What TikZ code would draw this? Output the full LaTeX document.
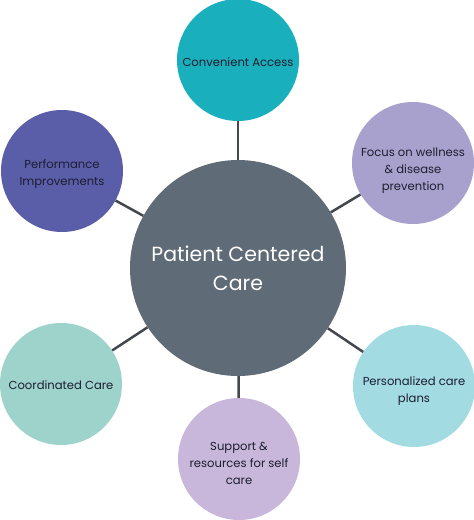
\documentclass[tikz,border=0pt]{standalone}
\usepackage{fontspec}
\setmainfont{Poppins}
\usetikzlibrary{positioning}
\definecolor{hubgray}{RGB}{95,107,118}
\definecolor{linkgray}{RGB}{66,72,78}
\definecolor{textdark}{RGB}{28,30,48}
\definecolor{accessteal}{RGB}{26,175,188}
\definecolor{perfblue}{RGB}{90,94,168}
\definecolor{focuslav}{RGB}{169,161,205}
\definecolor{coordmint}{RGB}{158,211,203}
\definecolor{planscyan}{RGB}{163,219,227}
\definecolor{supportlilac}{RGB}{200,183,218}
\tikzset{
  spoke/.style={circle, minimum size=122pt, inner sep=0pt},
  caption/.style={align=center, inner sep=0pt, text=textdark,
    font=\fontsize{11.6}{17}\selectfont, yshift=#1},
  caption/.default=-2pt,
  hub/.style={circle, fill=hubgray, minimum size=216pt, inner sep=0pt,
    align=center, text=white, font=\fontsize{20.5}{29}\selectfont},
  link/.style={draw=linkgray, line width=2.5pt}
}

\begin{document}
\begin{tikzpicture}[x=1pt, y=1pt]
  \useasboundingbox (0,0) rectangle (474,-520);

  \node [hub] (hub) at (238,-268) {Patient Centered\\Care};
  \node [spoke, fill=accessteal, label={[caption]center:Convenient Access}] (access) at (238,-60) {};
  \node [spoke, fill=perfblue, label={[caption=-3pt]center:{Performance\\Improvements}}] (perf) at (62,-171) {};
  \node [spoke, fill=focuslav, label={[caption=-8pt]center:{Focus on wellness\\\& disease\\prevention}}] (focus) at (413,-163) {};
  \node [spoke, fill=coordmint, label={[caption=-1pt]center:Coordinated Care}] (coord) at (61,-384) {};
  \node [spoke, fill=planscyan, label={[caption=-5pt]center:{Personalized care\\plans}}] (plans) at (414,-386) {};
  \node [spoke, fill=supportlilac, label={[caption=-4pt]center:{Support \&\\resources for self\\care}}] (support) at (239,-459) {};

  \draw [link] (hub) -- (access);
  \draw [link] (hub) -- (perf);
  \draw [link] (hub) -- (focus);
  \draw [link] (hub) -- (coord);
  \draw [link] (hub) -- (plans);
  \draw [link] (hub) -- (support);
\end{tikzpicture}
\end{document}
